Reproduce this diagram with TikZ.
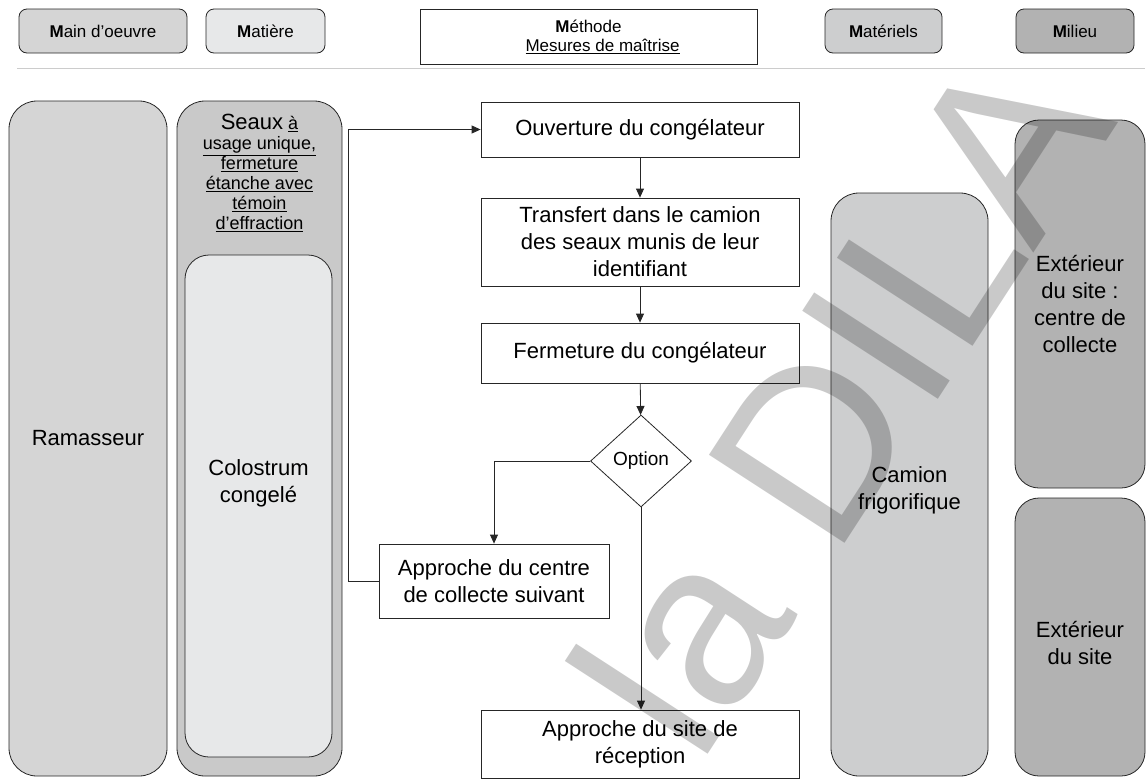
\documentclass[tikz,border=0pt]{standalone}
\usepackage{fontspec}
\setmainfont{Liberation Sans}
\usepackage{tikz}
\usetikzlibrary{arrows.meta,calc,shapes.geometric}
\definecolor{grisclair}{RGB}{231,232,233}
\definecolor{grismoyen}{RGB}{213,213,213}
\definecolor{grisseau}{RGB}{201,201,201}
\definecolor{grismat}{RGB}{205,206,207}
\definecolor{grisfonce}{RGB}{178,178,178}

\begin{document}
\begin{tikzpicture}[x=1pt,y=-1pt,>={Triangle[length=9pt,width=8pt]},
    trait/.style={draw=black!85,line width=0.8pt},
    entete/.style={trait,rounded corners=8pt,minimum height=44pt,inner sep=0pt,font=\fontsize{17}{20}\selectfont},
    etape/.style={trait,fill=white,minimum width=318pt,align=center,inner sep=0pt,font=\fontsize{22}{27}\selectfont},
    colonne/.style={trait,rounded corners=28pt,align=center,inner sep=0pt,font=\fontsize{22}{27}\selectfont}]
    % 图片边界
    \useasboundingbox (0,0) rectangle (1148,782);

    % 表头（5M）
    \node[entete,fill=grismoyen,minimum width=168pt] (mainoeuvre) at (103,31) {\textbf{M}ain d'oeuvre};
    \node[entete,fill=grisclair,minimum width=119pt] (matiere) at (265.5,31) {\textbf{M}atière};
    \node[trait,fill=white,minimum width=337pt,minimum height=55pt,inner sep=0pt,align=center,
          font=\fontsize{17}{19}\selectfont] (methode) at (588.5,36.5)
          {\textbf{M}éthode\\\hspace*{28pt}\underline{Mesures de maîtrise}};
    \node[entete,fill=grismat,minimum width=117pt] (materiels) at (883.5,31) {\textbf{M}atériels};
    \node[entete,fill=grisfonce,minimum width=118pt] (milieu) at (1075,31) {\textbf{M}ilieu};
    \draw[black!20,line width=1pt] (17,68) -- (1145,68);

    % 左侧两列：人员与物料
    \node[colonne,fill=grismoyen,minimum width=158pt,minimum height=675pt] (ramasseur) at (88,438.5) {Ramasseur};
    \node[colonne,fill=grisseau,minimum width=165pt,minimum height=675pt] (seaux) at (259.5,438.5) {};
    \node[align=center,anchor=north,inner sep=0pt,font=\fontsize{18}{20}\selectfont] (seauxtxt) at (259.5,114)
        {{\fontsize{22}{22}\selectfont Seaux} \underline{à}\\\underline{usage unique,}\\\underline{fermeture}\\
         \underline{étanche avec}\\\underline{témoin}\\\underline{d'effraction}};
    \node[colonne,fill=grisclair,rounded corners=24pt,minimum width=147pt,minimum height=502pt] (colostrum) at (258.5,506) {};
    \node[align=center,inner sep=0pt,font=\fontsize{22}{27}\selectfont] (colotxt) at (258.5,483) {Colostrum\\congelé};

    % 中间流程
    \node[etape,minimum height=55pt] (ouverture) at (640,129.5) {Ouverture du congélateur};
    \node[etape,minimum height=88pt] (transfert) at (640,242) {Transfert dans le camion\\des seaux munis de leur\\identifiant};
    \node[etape,minimum height=60pt] (fermeture) at (640,353) {Fermeture du congélateur};
    \node[trait,diamond,fill=white,minimum width=101pt,minimum height=92pt,inner sep=0pt,
          font=\fontsize{19}{22}\selectfont] (option) at (641,461) {Option};
    \node[etape,minimum width=230pt,minimum height=74pt] (centre) at (494,581) {Approche du centre\\de collecte suivant};
    \node[etape,minimum height=68pt] (site) at (640,744) {Approche du site de\\réception};

    % 连线
    \draw[->,trait] (ouverture) -- (transfert);
    \draw[->,trait] (transfert) -- (fermeture);
    \draw[->,trait] (fermeture) -- (option);
    \draw[->,trait] (option.west) -| (centre.north);
    \draw[->,trait] (option.south) -- (site.north -| option.south);
    \draw[->,trait] (centre.west) -- ++(-30,0) |- (ouverture.west);

    % 右侧：设备与环境
    \node[colonne,fill=grismat,minimum width=157pt,minimum height=583pt] (camion) at (909.5,484.5) {};
    \node[align=center,inner sep=0pt,font=\fontsize{22}{27}\selectfont] (camiontxt) at (909.5,490) {Camion\\frigorifique};
    \node[colonne,fill=grisfonce,rounded corners=24pt,minimum width=130pt,minimum height=368pt] (centrecollecte) at (1080,304)
        {Extérieur\\du site :\\centre de\\collecte};
    \node[colonne,fill=grisfonce,rounded corners=24pt,minimum width=130pt,minimum height=278pt] (exterieur) at (1080,637) {};
    \node[align=center,inner sep=0pt,font=\fontsize{22}{27}\selectfont] (exterieurtxt) at (1080,643) {Extérieur\\du site};

    % 水印
    \begin{scope}
        \clip (0,0) rectangle (1148,782);
        \node[rotate=57,anchor=base west,inner sep=0pt,text=black,text opacity=0.21,
              font=\fontsize{235}{235}\selectfont] (filigrane) at (699,768) {la DILA};
    \end{scope}
\end{tikzpicture}
\end{document}
